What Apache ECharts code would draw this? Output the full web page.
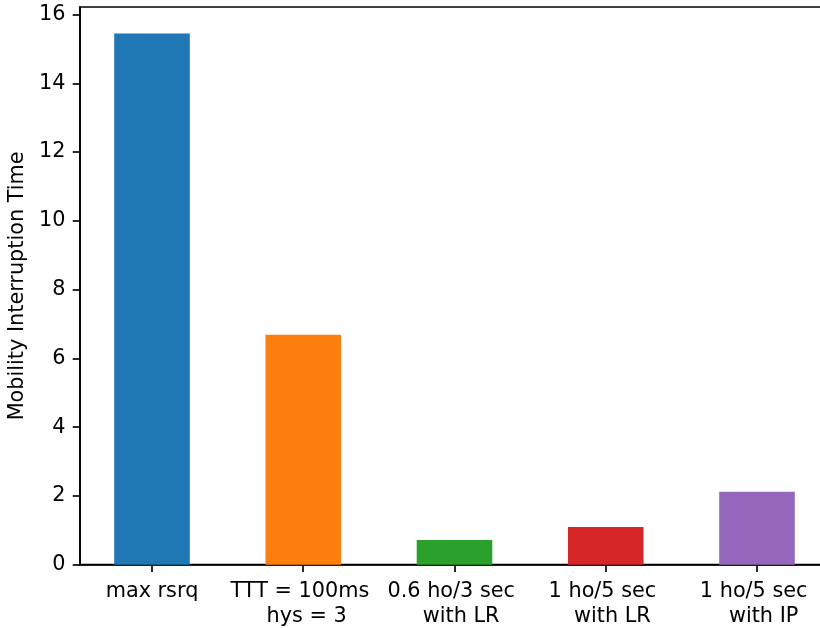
<!DOCTYPE html>
<html>
<head>
<meta charset="utf-8">
<script src="https://cdn.jsdelivr.net/npm/echarts@6/dist/echarts.min.js"></script>
<style>
  html, body { margin: 0; padding: 0; background: #fff; }
  #chart { width: 820px; height: 628px; }
</style>
</head>
<body>
<div id="chart"></div>
<script>
// Scenario labels (spaces keep the two lines offset the way they are set)
const categories = [
  'max rsrq',
  'TTT = 100ms \n hys = 3',
  '0.6 ho/3 sec \n  with LR',
  '1 ho/5 sec \n  with LR',
  '1 ho/5 sec \n  with IP'
];
const interruptionTime = [15.45, 6.69, 0.72, 1.10, 2.12];
const barColors = ['#1f77b4', '#ff7f0e', '#2ca02c', '#d62728', '#9467bd'];
const yTicks = [0, 2, 4, 6, 8, 10, 12, 14, 16];
const xPositions = categories.map((_, i) => i);

const FONT = 'DejaVu Sans';
const FS = 20.8;
const LW = 1.67;

const chart = echarts.init(document.getElementById('chart'), null, { renderer: 'canvas' });

chart.setOption({
  animation: false,
  backgroundColor: '#ffffff',
  grid: {
    left: 80, top: 7, width: 749, height: 557.7,
    outerBoundsMode: 'none',
    containLabel: false,
    show: true, borderColor: '#000', borderWidth: LW, backgroundColor: 'transparent'
  },
  xAxis: {
    type: 'value',
    min: -0.476,
    max: 4.476,
    splitLine: { show: false },
    axisLine: { show: true, onZero: false, lineStyle: { color: '#000', width: LW } },
    axisTick: {
      show: true, inside: false, length: 7.3,
      customValues: xPositions,
      lineStyle: { color: '#000', width: LW }
    },
    axisLabel: {
      customValues: xPositions,
      margin: 14.2,
      fontFamily: FONT, fontSize: FS, color: '#000', lineHeight: 25,
      align: 'center', verticalAlign: 'top',
      formatter: v => categories[Math.round(v)]
    }
  },
  yAxis: {
    type: 'value',
    min: 0,
    max: 16.22,
    name: 'Mobility Interruption Time',
    nameLocation: 'middle',
    nameGap: 49,
    nameRotate: 90,
    nameTextStyle: { fontFamily: FONT, fontSize: FS, color: '#000' },
    splitLine: { show: false },
    axisLine: { show: true, onZero: false, lineStyle: { color: '#000', width: LW } },
    axisTick: {
      show: true, inside: false, length: 7.3,
      customValues: yTicks,
      lineStyle: { color: '#000', width: LW }
    },
    axisLabel: {
      customValues: yTicks,
      margin: 14.6,
      fontFamily: FONT, fontSize: FS, color: '#000'
    }
  },
  series: [{
    type: 'bar',
    barWidth: 75.6,
    data: interruptionTime.map((v, i) => ({
      value: [xPositions[i], v],
      itemStyle: { color: barColors[i] }
    }))
  }]
});
</script>
</body>
</html>
